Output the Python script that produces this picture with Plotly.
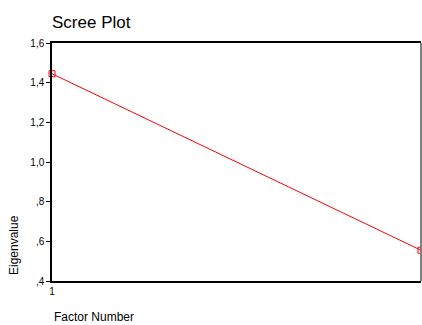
import plotly.graph_objects as go

# Scree plot data
factor_number = [1, 2]
eigenvalue = [1.445, 0.555]
y_tick_values = [0.4, 0.6, 0.8, 1.0, 1.2, 1.4, 1.6]
y_tick_labels = [",4", ",6", ",8", "1,0", "1,2", "1,4", "1,6"]
x_tick_labels = ["1", "2"]

fig = go.Figure()
fig.add_trace(go.Scatter(
    x=factor_number, y=eigenvalue,
    mode="lines+markers",
    line=dict(color="#ff0000", width=1),
    marker=dict(symbol="square-open", size=6, color="#ff0000", line=dict(width=1)),
    cliponaxis=False,
    showlegend=False,
))

# Right frame edge in grey
fig.add_shape(type="line", xref="paper", yref="paper", x0=1, x1=1, y0=0, y1=1,
              line=dict(color="#808080", width=2), layer="above")

fig.add_annotation(text="Eigenvalue", textangle=-90, xref="paper", yref="paper",
                   x=-52/369, y=(281-245)/238, xanchor="left", yanchor="middle",
                   xshift=5, showarrow=False,
                   font=dict(family="Liberation Sans, Arial", size=12, color="#000"))
fig.add_annotation(text="Factor Number", xref="paper", yref="paper",
                   x=0, y=-(317-281)/238, xanchor="left", yanchor="middle",
                   showarrow=False,
                   font=dict(family="Liberation Sans, Arial", size=12, color="#000"))

fig.update_layout(
    width=422, height=325,
    margin=dict(l=52, r=1, t=43, b=44),
    paper_bgcolor="white", plot_bgcolor="white",
    title=dict(text="Scree Plot", x=52/422, xanchor="left", y=1-22/325, yanchor="middle",
               font=dict(family="Liberation Sans, Arial", size=17, color="#000")),
    font=dict(family="Liberation Sans, Arial", size=10, color="#000"),
    xaxis=dict(range=[1, 2], tickvals=factor_number, ticktext=x_tick_labels,
               showgrid=False, zeroline=False, showline=True, linecolor="black",
               linewidth=1.5, mirror=True, ticks="", tickfont=dict(size=10)),
    yaxis=dict(range=[0.4, 1.6], tickvals=y_tick_values, ticktext=y_tick_labels,
               showgrid=False, zeroline=False, showline=True, linecolor="black",
               linewidth=1.5, ticks="outside", ticklen=4, tickcolor="black",
               tickfont=dict(size=10)),
)

fig.write_html("out.html")
